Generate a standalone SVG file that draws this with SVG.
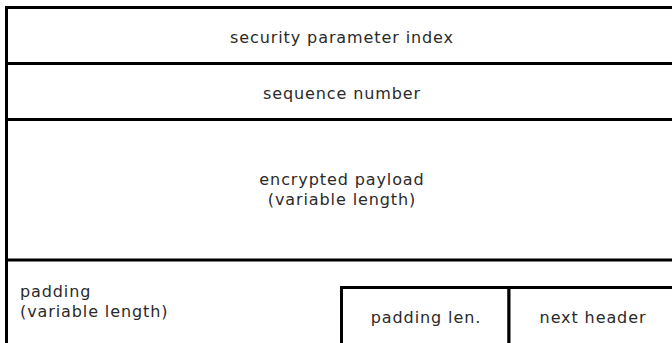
<svg xmlns="http://www.w3.org/2000/svg" width="672" height="343" viewBox="0 0 672 343">
<style>
.box{fill:#fff;stroke:#000;stroke-width:3}
.ln{stroke:#000;stroke-width:3;fill:none}
text{font-family:"DejaVu Sans",sans-serif;font-size:16px;fill:#2a2a2a;letter-spacing:0.9px}
.c{text-anchor:middle}
</style>
<rect width="672" height="343" fill="#fff"/>
<g id="frame">
<rect class="box" x="6.5" y="7.5" width="669" height="340"/>
</g>
<g id="connectors">
<line class="ln" x1="6.5" y1="63.5" x2="676" y2="63.5"/>
<line class="ln" x1="6.5" y1="119.5" x2="676" y2="119.5"/>
<line class="ln" x1="6.5" y1="260" x2="676" y2="260"/>
</g>
<g id="spi"><text class="c" x="342" y="43">security parameter index</text></g>
<g id="seq"><text class="c" x="342" y="99">sequence number</text></g>
<g id="payload"><text class="c" x="342" y="185">encrypted payload</text><text class="c" x="342" y="205">(variable length)</text></g>
<g id="padding"><text x="20" y="297">padding</text><text x="20" y="317">(variable length)</text></g>
<g id="padlen"><rect class="box" x="341.5" y="287.5" width="167.5" height="60"/><text class="c" x="426" y="323">padding len.</text></g>
<g id="nexthdr"><rect class="box" x="509" y="287.5" width="167" height="60"/><text class="c" x="593" y="323">next header</text></g>
</svg>
